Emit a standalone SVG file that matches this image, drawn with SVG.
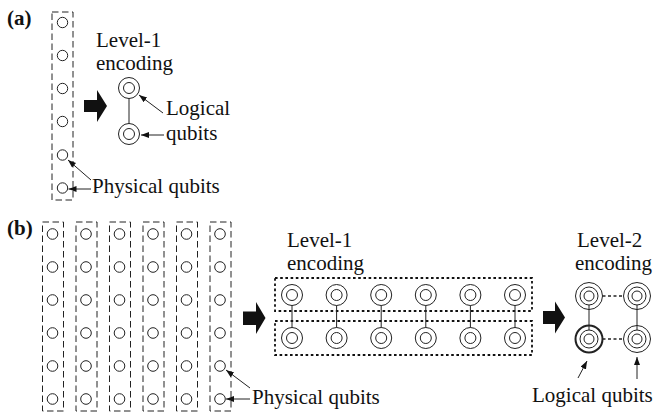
<svg xmlns="http://www.w3.org/2000/svg" width="659" height="416" viewBox="0 0 659 416">
<defs>
<style>
text{font-family:"Liberation Serif","Times New Roman",serif;font-size:21px;fill:#111}
.lbl{font-weight:bold}
.dash{fill:none;stroke:#222;stroke-width:1;stroke-dasharray:6.5 3.5}
.dot{fill:none;stroke:#111;stroke-width:1.8;stroke-dasharray:2.6 2.6}
.q{fill:#fff;stroke:#222;stroke-width:1}
.ln{stroke:#222;stroke-width:1;fill:none}
.blk{fill:#111}
</style>
<marker id="ah" markerUnits="userSpaceOnUse" markerWidth="9" markerHeight="7" refX="8" refY="3" orient="auto">
<path d="M0,0 L8,3 L0,6 z" fill="#111"/>
</marker>
</defs>
<rect width="659" height="416" fill="#fff"/>

<!-- (a) -->
<text id="label-a" class="lbl" x="7" y="25">(a)</text>
<g id="a-physical">
<rect class="dash" x="52" y="12" width="21" height="188"/>
<circle class="q" cx="62.5" cy="22.5" r="5.2"/>
<circle class="q" cx="62.5" cy="55.5" r="5.2"/>
<circle class="q" cx="62.5" cy="88.5" r="5.2"/>
<circle class="q" cx="62.5" cy="121.5" r="5.2"/>
<circle class="q" cx="62.5" cy="155" r="5.2"/>
<circle class="q" cx="62.5" cy="188" r="5.2"/>
</g>
<g id="a-logical-1"><circle class="q" cx="129" cy="88" r="10.5"/><circle class="q" cx="129" cy="88" r="5.5"/></g>
<g id="a-logical-2"><circle class="q" cx="129" cy="134" r="10.5"/><circle class="q" cx="129" cy="134" r="5.5"/></g>
<g id="a-texts">
<text x="96" y="47">Level-1</text>
<text x="96" y="70">encoding</text>
<text x="166" y="115">Logical</text>
<text x="166" y="140">qubits</text>
<text x="92" y="193">Physical qubits</text>
</g>

<!-- (b) -->
<text id="label-b" class="lbl" x="7" y="235">(b)</text>
<g id="b-physical">
<rect class="dash" x="42.5" y="222" width="21" height="189"/>
<rect class="dash" x="76" y="222" width="21" height="189"/>
<rect class="dash" x="109.5" y="222" width="21" height="189"/>
<rect class="dash" x="143" y="222" width="21" height="189"/>
<rect class="dash" x="176.5" y="222" width="21" height="189"/>
<rect class="dash" x="210" y="222" width="21" height="189"/>
<g id="b-phys-circles">
<circle class="q" cx="52.5" cy="234" r="5.3"/><circle class="q" cx="52.5" cy="267" r="5.3"/><circle class="q" cx="52.5" cy="300" r="5.3"/><circle class="q" cx="52.5" cy="333" r="5.3"/><circle class="q" cx="52.5" cy="366" r="5.3"/><circle class="q" cx="52.5" cy="399" r="5.3"/>
<circle class="q" cx="86" cy="234" r="5.3"/><circle class="q" cx="86" cy="267" r="5.3"/><circle class="q" cx="86" cy="300" r="5.3"/><circle class="q" cx="86" cy="333" r="5.3"/><circle class="q" cx="86" cy="366" r="5.3"/><circle class="q" cx="86" cy="399" r="5.3"/>
<circle class="q" cx="119.5" cy="234" r="5.3"/><circle class="q" cx="119.5" cy="267" r="5.3"/><circle class="q" cx="119.5" cy="300" r="5.3"/><circle class="q" cx="119.5" cy="333" r="5.3"/><circle class="q" cx="119.5" cy="366" r="5.3"/><circle class="q" cx="119.5" cy="399" r="5.3"/>
<circle class="q" cx="153" cy="234" r="5.3"/><circle class="q" cx="153" cy="267" r="5.3"/><circle class="q" cx="153" cy="300" r="5.3"/><circle class="q" cx="153" cy="333" r="5.3"/><circle class="q" cx="153" cy="366" r="5.3"/><circle class="q" cx="153" cy="399" r="5.3"/>
<circle class="q" cx="186.5" cy="234" r="5.3"/><circle class="q" cx="186.5" cy="267" r="5.3"/><circle class="q" cx="186.5" cy="300" r="5.3"/><circle class="q" cx="186.5" cy="333" r="5.3"/><circle class="q" cx="186.5" cy="366" r="5.3"/><circle class="q" cx="186.5" cy="399" r="5.3"/>
<circle class="q" cx="220" cy="234" r="5.3"/><circle class="q" cx="220" cy="267" r="5.3"/><circle class="q" cx="220" cy="300" r="5.3"/><circle class="q" cx="220" cy="333" r="5.3"/><circle class="q" cx="220" cy="366" r="5.3"/><circle class="q" cx="220" cy="399" r="5.3"/>
</g>
</g>

<g id="b-level1">
<rect class="dot" x="275" y="278" width="257" height="33"/>
<rect class="dot" x="275" y="321" width="257" height="34"/>
</g>

<!-- connectors -->
<g id="connectors">
<line class="ln" x1="129" y1="98.5" x2="129" y2="123.5"/>
<line class="ln" x1="163" y1="113" x2="139" y2="95" marker-end="url(#ah)"/>
<line class="ln" x1="164" y1="135" x2="141" y2="135" marker-end="url(#ah)"/>
<line class="ln" x1="91" y1="180" x2="68" y2="160" marker-end="url(#ah)"/>
<line class="ln" x1="91" y1="189" x2="68.5" y2="189" marker-end="url(#ah)"/>
<line class="ln" x1="250" y1="388" x2="226" y2="370" marker-end="url(#ah)"/>
<line class="ln" x1="250" y1="399" x2="226" y2="399" marker-end="url(#ah)"/>
<g id="l1-links">
<line class="ln" x1="292" y1="305" x2="292" y2="328"/>
<line class="ln" x1="336.6" y1="305" x2="336.6" y2="328"/>
<line class="ln" x1="381.2" y1="305" x2="381.2" y2="328"/>
<line class="ln" x1="425.8" y1="305" x2="425.8" y2="328"/>
<line class="ln" x1="470.4" y1="305" x2="470.4" y2="328"/>
<line class="ln" x1="515" y1="305" x2="515" y2="328"/>
</g>
<g id="l2-links">
<line class="ln" x1="589" y1="305" x2="589" y2="330"/>
<line class="ln" x1="637" y1="305" x2="637" y2="330"/>
<line x1="602.5" y1="296" x2="623.5" y2="296" stroke="#222" stroke-width="1.5" stroke-dasharray="3 2.5"/>
<line x1="602.5" y1="339" x2="623.5" y2="339" stroke="#222" stroke-width="1.5" stroke-dasharray="3 2.5"/>
</g>
<line class="ln" x1="578" y1="378" x2="587" y2="361" marker-end="url(#ah)"/>
<line class="ln" x1="637" y1="379" x2="637" y2="357" marker-end="url(#ah)"/>
<polygon class="blk" points="84,100 97,100 97,90 107,106 97,122 97,112 84,112"/>
<polygon class="blk" points="243,311.5 256,311.5 256,302 265.5,318 256,334 256,325 243,325"/>
<polygon class="blk" points="543,311 555,311 555,301.5 565,317.5 555,333.5 555,324 543,324"/>
</g>

<g id="b-l1-qubits">
<g id="l1-q1"><circle class="q" cx="292" cy="295" r="10.5"/><circle class="q" cx="292" cy="295" r="5.5"/></g>
<g id="l1-q2"><circle class="q" cx="336.6" cy="295" r="10.5"/><circle class="q" cx="336.6" cy="295" r="5.5"/></g>
<g id="l1-q3"><circle class="q" cx="381.2" cy="295" r="10.5"/><circle class="q" cx="381.2" cy="295" r="5.5"/></g>
<g id="l1-q4"><circle class="q" cx="425.8" cy="295" r="10.5"/><circle class="q" cx="425.8" cy="295" r="5.5"/></g>
<g id="l1-q5"><circle class="q" cx="470.4" cy="295" r="10.5"/><circle class="q" cx="470.4" cy="295" r="5.5"/></g>
<g id="l1-q6"><circle class="q" cx="515" cy="295" r="10.5"/><circle class="q" cx="515" cy="295" r="5.5"/></g>
<g id="l1-q7"><circle class="q" cx="292" cy="338" r="10.5"/><circle class="q" cx="292" cy="338" r="5.5"/></g>
<g id="l1-q8"><circle class="q" cx="336.6" cy="338" r="10.5"/><circle class="q" cx="336.6" cy="338" r="5.5"/></g>
<g id="l1-q9"><circle class="q" cx="381.2" cy="338" r="10.5"/><circle class="q" cx="381.2" cy="338" r="5.5"/></g>
<g id="l1-q10"><circle class="q" cx="425.8" cy="338" r="10.5"/><circle class="q" cx="425.8" cy="338" r="5.5"/></g>
<g id="l1-q11"><circle class="q" cx="470.4" cy="338" r="10.5"/><circle class="q" cx="470.4" cy="338" r="5.5"/></g>
<g id="l1-q12"><circle class="q" cx="515" cy="338" r="10.5"/><circle class="q" cx="515" cy="338" r="5.5"/></g>
</g>

<g id="b-l2-qubits">
<g id="l2-q1"><circle class="q" cx="589" cy="296" r="13.5" style="fill:none"/><circle class="q" cx="589" cy="296" r="9"/><circle class="q" cx="589" cy="296" r="5"/></g>
<g id="l2-q2"><circle class="q" cx="637" cy="296" r="13.5" style="fill:none"/><circle class="q" cx="637" cy="296" r="9"/><circle class="q" cx="637" cy="296" r="5"/></g>
<g id="l2-q3"><circle class="q" cx="589" cy="339" r="13.5" style="fill:none;stroke-width:2"/><circle class="q" cx="589" cy="339" r="9"/><circle class="q" cx="589" cy="339" r="5"/></g>
<g id="l2-q4"><circle class="q" cx="637" cy="339" r="13.5" style="fill:none"/><circle class="q" cx="637" cy="339" r="9"/><circle class="q" cx="637" cy="339" r="5"/></g>
</g>

<g id="b-texts">
<text x="287" y="247">Level-1</text>
<text x="287" y="270">encoding</text>
<text x="577" y="247">Level-2</text>
<text x="575" y="270">encoding</text>
<text x="252" y="404">Physical qubits</text>
<text x="532" y="402">Logical qubits</text>
</g>
</svg>
